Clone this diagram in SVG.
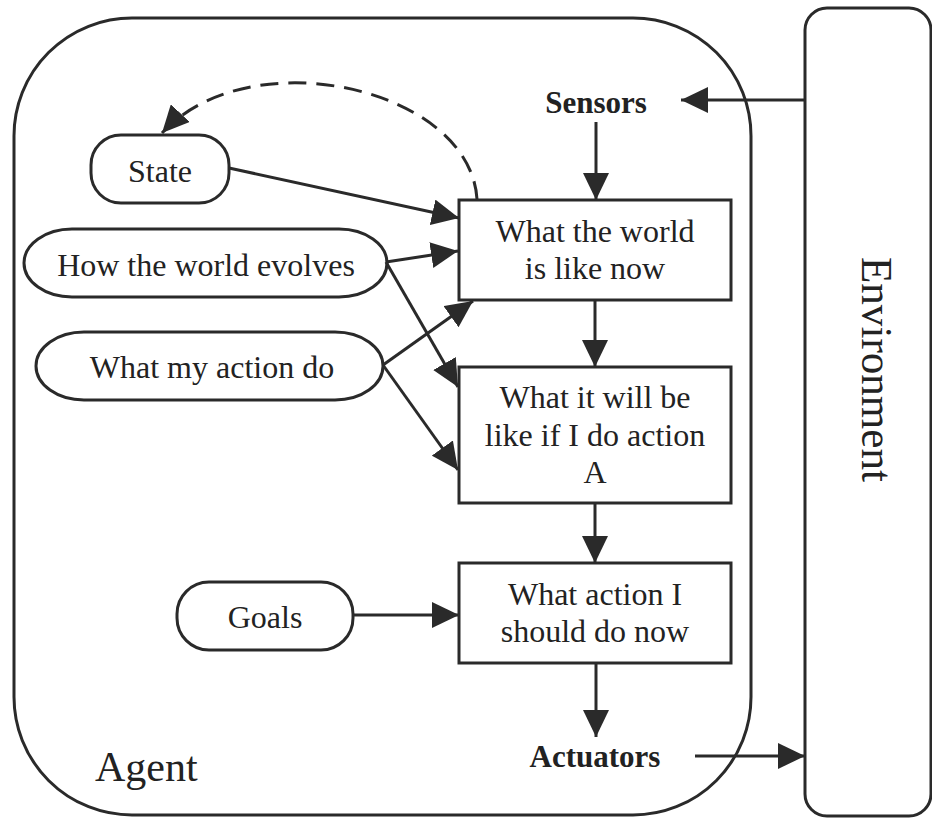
<svg xmlns="http://www.w3.org/2000/svg" width="932" height="818" viewBox="0 0 932 818" font-family="Liberation Serif, DejaVu Serif, serif">
  <style>
    text { font-family: "Liberation Serif", "DejaVu Serif", serif; fill: #222; }
    .lbl { font-size: 32px; text-anchor: middle; }
    .bold { font-size: 31px; font-weight: bold; text-anchor: middle; }
    .frame { fill: none; stroke: #2a2a2a; stroke-width: 3; }
    .node { fill: #ffffff; stroke: #2a2a2a; stroke-width: 3; }
    .edge { fill: none; stroke: #2a2a2a; stroke-width: 3; }
    .dash { fill: none; stroke: #2a2a2a; stroke-width: 3; stroke-dasharray: 18 10; }
  </style>
  <defs>
    <marker id="arrow" markerUnits="userSpaceOnUse" markerWidth="28" markerHeight="26" refX="27" refY="13" orient="auto">
      <path d="M0,0 L27,13 L0,26 z" fill="#2a2a2a"/>
    </marker>
  </defs>

  <rect x="0" y="0" width="932" height="818" fill="#ffffff"/>

  <!-- agent boundary -->
  <g id="agent">
    <rect x="14" y="18" width="737" height="797" rx="118" ry="118" fill="#ececec" class="frame"/>
    <text x="95" y="781" font-size="42">Agent</text>
  </g>

  <!-- environment -->
  <g id="environment">
    <rect x="805" y="8" width="126" height="808" rx="22" ry="22" fill="#f7f7f7" class="frame"/>
    <text transform="translate(862,369.5) rotate(90)" font-size="44" text-anchor="middle" textLength="225" lengthAdjust="spacingAndGlyphs">Environment</text>
  </g>

  <g id="sensors">
    <text x="596" y="113" class="bold">Sensors</text>
  </g>
  <g id="actuators">
    <text x="595" y="767" class="bold">Actuators</text>
  </g>

  <g id="state">
    <rect x="91" y="135" width="138" height="68" rx="30" ry="30" class="node"/>
    <text x="160" y="182" class="lbl">State</text>
  </g>

  <g id="world-evolves">
    <rect x="24" y="229" width="363" height="68" rx="48" ry="34" class="node"/>
    <text x="206" y="276" class="lbl">How the world evolves</text>
  </g>

  <g id="action-effects">
    <rect x="36" y="332" width="347" height="68" rx="48" ry="34" class="node"/>
    <text x="212" y="378" class="lbl">What my action do</text>
  </g>

  <g id="goals">
    <rect x="177" y="582" width="176" height="68" rx="32" ry="32" class="node"/>
    <text x="265" y="628" class="lbl">Goals</text>
  </g>

  <g id="world-now">
    <rect x="459" y="200" width="272" height="100" class="node"/>
    <text x="595" y="242" class="lbl">What the world</text>
    <text x="595" y="279" class="lbl">is like now</text>
  </g>

  <g id="world-if-action">
    <rect x="459" y="367" width="272" height="136" class="node"/>
    <text x="595" y="408" class="lbl">What it will be</text>
    <text x="595" y="446" class="lbl">like if I do action</text>
    <text x="595" y="483" class="lbl">A</text>
  </g>

  <g id="action-now">
    <rect x="459" y="563" width="272" height="100" class="node"/>
    <text x="595" y="605" class="lbl">What action I</text>
    <text x="595" y="642" class="lbl">should do now</text>
  </g>

  <!-- connectors -->
  <g id="connectors">
    <path class="dash" d="M477,199 C470,88 250,38 162,133" marker-end="url(#arrow)"/>
    <line class="edge" x1="805" y1="100" x2="681" y2="100" marker-end="url(#arrow)"/>
    <line class="edge" x1="596" y1="122" x2="596" y2="200" marker-end="url(#arrow)"/>
    <line class="edge" x1="229" y1="168" x2="459" y2="218" marker-end="url(#arrow)"/>
    <line class="edge" x1="386" y1="262" x2="458" y2="251" marker-end="url(#arrow)"/>
    <line class="edge" x1="386" y1="262" x2="458" y2="387" marker-end="url(#arrow)"/>
    <line class="edge" x1="383" y1="365" x2="473" y2="301" marker-end="url(#arrow)"/>
    <line class="edge" x1="383" y1="365" x2="458" y2="470" marker-end="url(#arrow)"/>
    <line class="edge" x1="595" y1="300" x2="595" y2="367" marker-end="url(#arrow)"/>
    <line class="edge" x1="595" y1="503" x2="595" y2="563" marker-end="url(#arrow)"/>
    <line class="edge" x1="353" y1="615" x2="459" y2="615" marker-end="url(#arrow)"/>
    <line class="edge" x1="596" y1="663" x2="596" y2="737" marker-end="url(#arrow)"/>
    <line class="edge" x1="695" y1="756" x2="805" y2="756" marker-end="url(#arrow)"/>
  </g>
</svg>
